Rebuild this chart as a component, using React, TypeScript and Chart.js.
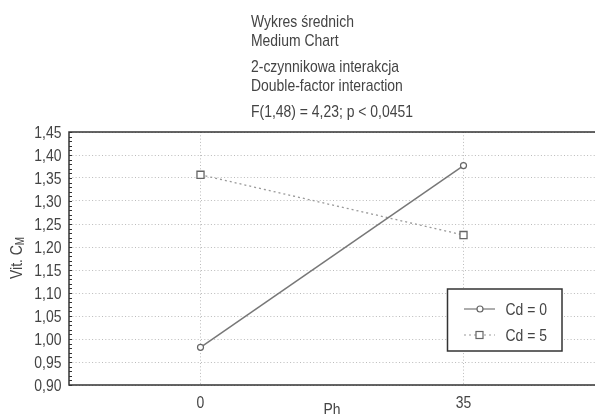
import React, { useEffect, useRef } from "react";
import { Chart, registerables } from "chart.js";

Chart.register(...registerables);

const titleLines = [
  "Wykres średnich",
  "Medium Chart",
  "2-czynnikowa interakcja",
  "Double-factor interaction",
  "F(1,48) = 4,23; p < 0,0451",
];
const phLevels = [0, 35];
const cd0Values = [0.982, 1.377];
const cd5Values = [1.357, 1.226];
const seriesLabels = ["Cd = 0", "Cd = 5"];
const yTickMin = 0.9;
const yTickMax = 1.45;
const yTickStep = 0.05;
const xAxisTitle = "Ph";
const yAxisTitleMain = "Vit. C";
const yAxisTitleSub = "M";

const FONT = '"Liberation Sans", Arial, sans-serif';
const TEXT = "#444";
const SQUEEZE = 0.82;

function narrowText(
  ctx: CanvasRenderingContext2D,
  text: string,
  x: number,
  y: number,
  align: CanvasTextAlign,
  baseline: CanvasTextBaseline,
  size: number
) {
  ctx.save();
  ctx.translate(x, y);
  ctx.scale(SQUEEZE, 1);
  ctx.font = `${size}px ${FONT}`;
  ctx.textAlign = align;
  ctx.textBaseline = baseline;
  ctx.fillText(text, 0, 0);
  ctx.restore();
}

const overlay = {
  id: "overlay",
  afterDraw(chart: any) {
    const { ctx, chartArea } = chart;
    const { left, right, top, bottom } = chartArea;
    const yScale = chart.scales.y;
    const xScale = chart.scales.x;
    ctx.save();
    // frame
    ctx.strokeStyle = "#333";
    ctx.lineWidth = 1.5;
    ctx.beginPath();
    ctx.moveTo(right + 2, top);
    ctx.lineTo(left, top);
    ctx.lineTo(left, bottom);
    ctx.lineTo(right + 2, bottom);
    ctx.stroke();
    // minor ticks on y axis
    ctx.lineWidth = 1;
    ctx.beginPath();
    for (let v = Math.round(yTickMin * 100); v <= Math.round(yTickMax * 100); v++) {
      const y = Math.round(yScale.getPixelForValue(v / 100)) + 0.5;
      ctx.moveTo(left, y);
      ctx.lineTo(left + 3, y);
    }
    ctx.stroke();

    ctx.fillStyle = TEXT;
    // y tick labels
    yScale.ticks.forEach((t: any) => {
      const y = yScale.getPixelForValue(t.value);
      narrowText(ctx, Number(t.value).toFixed(2).replace(".", ","), left - 7.5, y + 1, "right", "middle", 17);
    });
    // x tick labels
    xScale.ticks.forEach((t: any) => {
      const x = xScale.getPixelForValue(t.value);
      narrowText(ctx, String(t.value), x, 408, "center", "alphabetic", 17);
    });

    // titles
    const baselines = [26.7, 45.5, 72, 90.5, 117];
    titleLines.forEach((t, i) => narrowText(ctx, t, 251, baselines[i], "left", "alphabetic", 17));

    // x title
    narrowText(ctx, xAxisTitle, (left + right) / 2, 415, "center", "alphabetic", 17);

    // y title
    ctx.save();
    ctx.translate(17, 258);
    ctx.rotate(-Math.PI / 2);
    ctx.scale(SQUEEZE, 1);
    ctx.font = `17px ${FONT}`;
    const w1 = ctx.measureText(yAxisTitleMain).width;
    ctx.font = `12px ${FONT}`;
    const w2 = ctx.measureText(yAxisTitleSub).width;
    const start = -(w1 + w2) / 2;
    ctx.textAlign = "left";
    ctx.textBaseline = "middle";
    ctx.font = `17px ${FONT}`;
    ctx.fillText(yAxisTitleMain, start, 0);
    ctx.font = `12px ${FONT}`;
    ctx.fillText(yAxisTitleSub, start + w1, 4);
    ctx.restore();

    // legend
    const bx = 447.5, by = 289, bw = 114.5, bh = 62;
    ctx.fillStyle = "#fff";
    ctx.fillRect(bx, by, bw, bh);
    ctx.strokeStyle = "#333";
    ctx.lineWidth = 1.5;
    ctx.strokeRect(bx, by, bw, bh);
    const rows = [309, 335];
    chart.data.datasets.forEach((ds: any, i: number) => {
      const y = rows[i];
      ctx.save();
      ctx.strokeStyle = ds.borderColor;
      ctx.lineWidth = 1.2;
      ctx.setLineDash(ds.borderDash || []);
      ctx.beginPath();
      ctx.moveTo(464, y);
      ctx.lineTo(495, y);
      ctx.stroke();
      ctx.setLineDash([]);
      ctx.fillStyle = "#fff";
      ctx.strokeStyle = ds.pointBorderColor;
      ctx.lineWidth = 1.2;
      if (ds.pointStyle === "rect") {
        ctx.fillRect(476, y - 3.5, 7, 7);
        ctx.strokeRect(476, y - 3.5, 7, 7);
      } else {
        ctx.beginPath();
        ctx.arc(480, y, 3, 0, Math.PI * 2);
        ctx.fill();
        ctx.stroke();
      }
      ctx.restore();
      ctx.fillStyle = TEXT;
      narrowText(ctx, ds.label, 505.5, y + 1, "left", "middle", 17);
    });
    ctx.restore();
  },
};

export default function App() {
  const ref = useRef<HTMLCanvasElement | null>(null);
  useEffect(() => {
    if (!ref.current) return;
    const chart = new Chart(ref.current, {
      type: "line",
      data: {
        datasets: [
          {
            label: seriesLabels[0],
            data: phLevels.map((x, i) => ({ x, y: cd0Values[i] })),
            borderColor: "#777",
            borderWidth: 1.5,
            pointStyle: "circle",
            pointRadius: 3,
            pointBackgroundColor: "#fff",
            pointBorderColor: "#666",
            pointBorderWidth: 1.2,
          } as any,
          {
            label: seriesLabels[1],
            data: phLevels.map((x, i) => ({ x, y: cd5Values[i] })),
            borderColor: "#999",
            borderWidth: 1.3,
            borderDash: [2, 3],
            pointStyle: "rect",
            pointRadius: 5,
            pointBackgroundColor: "#fff",
            pointBorderColor: "#666",
            pointBorderWidth: 1.3,
          } as any,
        ],
      },
      options: {
        responsive: false,
        animation: false,
        layout: { autoPadding: false, padding: { top: 132, left: 0, right: 0, bottom: 0 } },
        plugins: { legend: { display: false }, title: { display: false }, tooltip: { enabled: false } },
        scales: {
          x: {
            type: "linear",
            min: -17.5,
            max: 52.5,
            afterBuildTicks: (s: any) => {
              s.ticks = phLevels.map((v) => ({ value: v }));
            },
            afterFit: (s: any) => {
              s.height = 29;
              s.paddingLeft = 0;
              s.paddingRight = 0;
            },
            grid: { color: "#bbb", lineWidth: 1, drawTicks: false },
            border: { display: false, dash: [1, 2.3] },
            ticks: { display: false, autoSkip: false },
          },
          y: {
            min: yTickMin,
            max: yTickMax,
            afterFit: (s: any) => {
              s.width = 69;
              s.paddingTop = 0;
              s.paddingBottom = 0;
            },
            grid: { color: "#bbb", lineWidth: 1, drawTicks: false },
            border: { display: false, dash: [1, 2.3] },
            ticks: { display: false, autoSkip: false, stepSize: yTickStep },
          },
        },
      },
      plugins: [overlay],
    });
    return () => chart.destroy();
  }, []);
  return (
    <div style={{ position: "fixed", left: 0, top: 0, width: 595, height: 414, background: "#fff" }}>
      <canvas ref={ref} width={595} height={414} style={{ width: 595, height: 414, display: "block" }} />
    </div>
  );
}
